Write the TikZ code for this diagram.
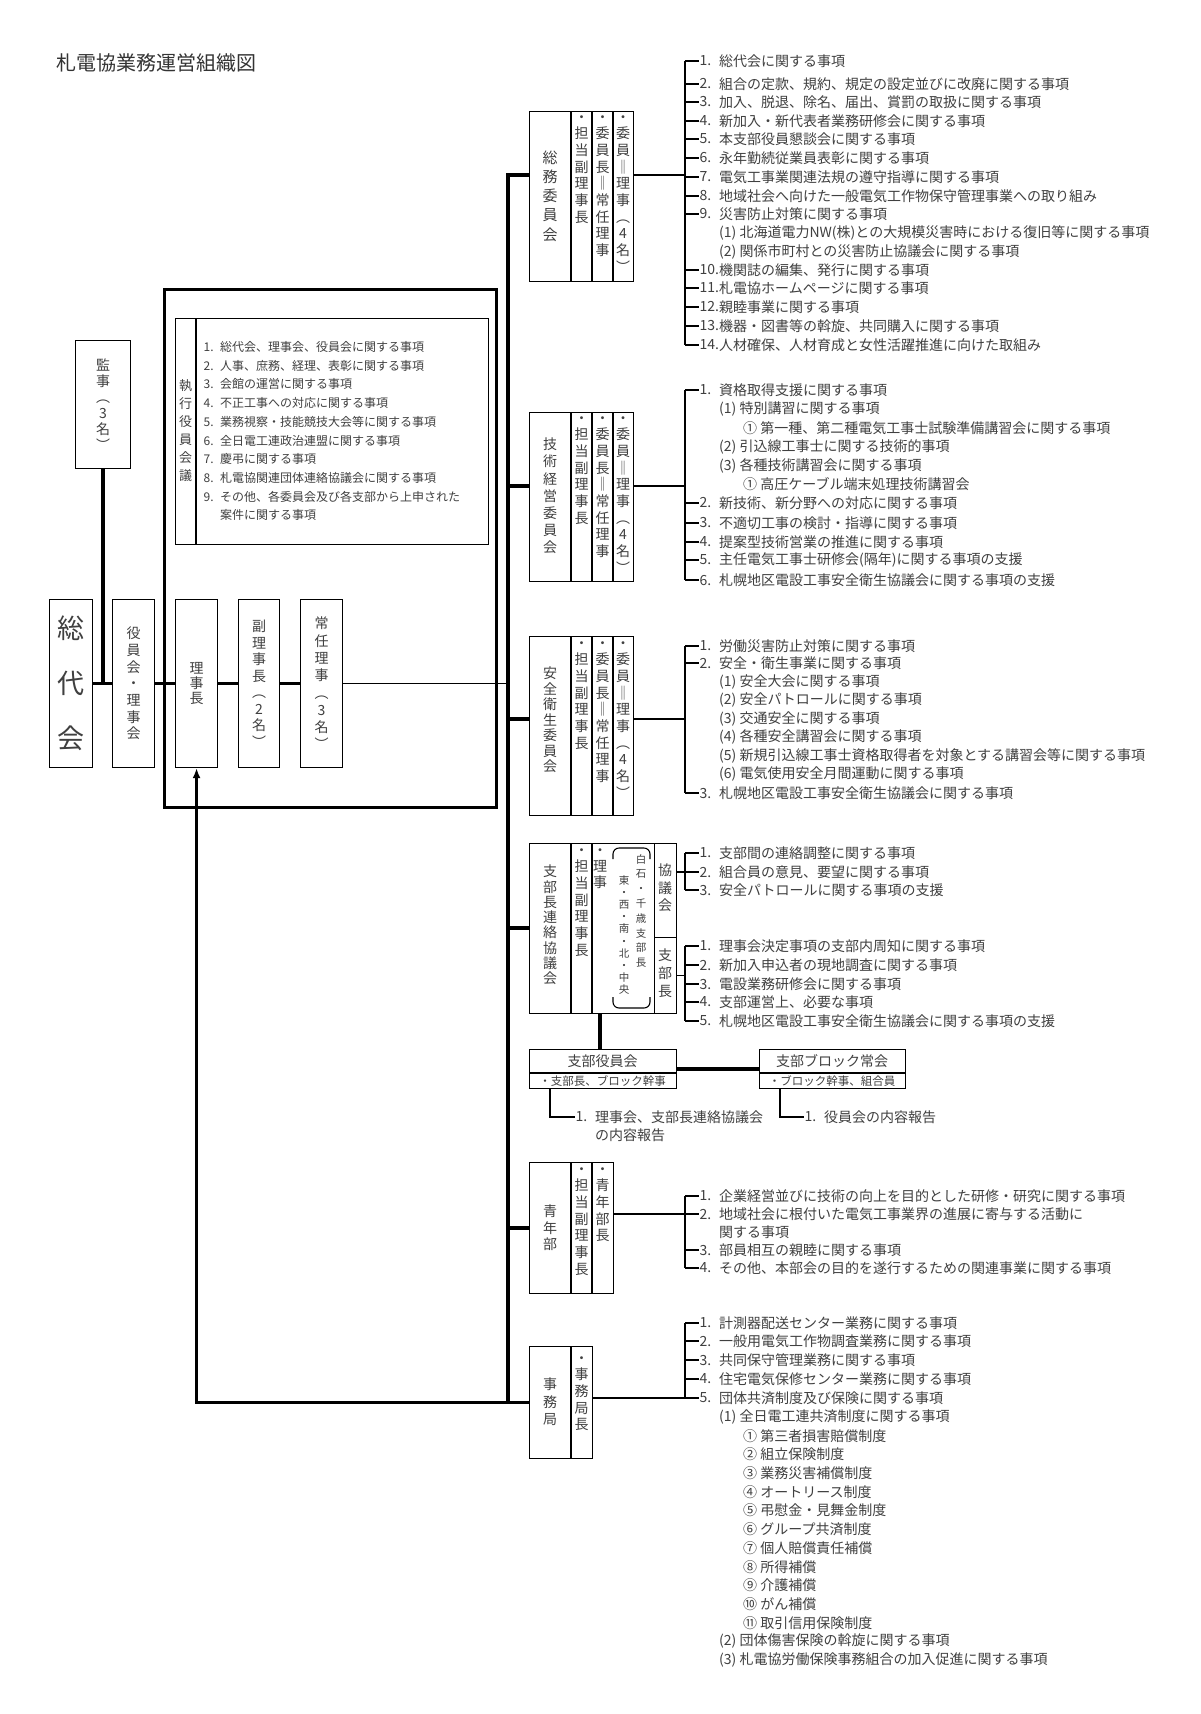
\documentclass[tikz,border=0pt]{standalone}
\usepackage{fontspec}
\setmainfont{Noto Sans CJK JP}
\usetikzlibrary{positioning,arrows.meta}

\begin{document}
\begin{tikzpicture}[x=1pt,y=-1pt,
    box/.style={draw,line width=1.1pt,inner sep=0pt,anchor=north west},
    tate/.style={align=center,inner sep=0pt,text=black!75,font=\fontsize{14}{16.7}\selectfont},
    num/.style={anchor=west,inner sep=0.5pt,text=black!75,font=\fontsize{14}{17}\selectfont},
    item/.style={anchor=west,inner sep=0pt,text=black!75,font=\fontsize{14}{17}\selectfont},
    small/.style={font=\fontsize{12}{14}\selectfont},
    heavy/.style={line width=3.5pt},
    slim/.style={line width=1.1pt}]
\fill[white] (0,0) rectangle (1200,1714);
\useasboundingbox (0,0) rectangle (1200,1714);

\node[anchor=west,text=black!80,font=\fontsize{20}{24}\selectfont] (title) at (53,63) {札電協業務運営組織図};

% left side
\node[box,minimum width=55pt,minimum height=128pt] (kanji) at (75,340) {};
\node[tate,font=\fontsize{14}{16}\selectfont] (kanjit) at (kanji.center) {監\\事\\︵\\3\\名\\︶};
\node[box,minimum width=43pt,minimum height=168pt] (sodai) at (49,599) {};
\node[tate,font=\fontsize{27}{55}\selectfont] (sodait) at (sodai.center) {総\\代\\会};
\node[box,minimum width=42pt,minimum height=168pt] (yakuin) at (112,599) {};
\node[tate] (yakuint) at (yakuin.center) {役\\員\\会\\・\\理\\事\\会};
\node[box,line width=2.5pt,minimum width=332pt,minimum height=518pt] (kanbu) at (163,288) {};
\node[box,minimum width=313pt,minimum height=226pt] (shikko) at (175,318) {};
\draw[slim] (196,318) -- (196,544);
\node[tate,font=\fontsize{13}{18}\selectfont] (shikkot) at (185.5,431) {執\\行\\役\\員\\会\\議};
\foreach \y/\n/\t [count=\i] in {347/1./総代会、理事会、役員会に関する事項,
    366/2./人事、庶務、経理、表彰に関する事項,384/3./会館の運営に関する事項,
    403/4./不正工事への対応に関する事項,422/5./業務視察・技能競技大会等に関する事項,
    441/6./全日電工連政治連盟に関する事項,459/7./慶弔に関する事項,
    478/8./札電協関連団体連絡協議会に関する事項,497/9./その他、各委員会及び各支部から上申された} {
  \node[num,small] (sk\i) at (203,\y) {\n};
  \node[item,small] (skt\i) at (220,\y) {\t};
}
\node[item,small] (skt10) at (220,515) {案件に関する事項};

\node[box,minimum width=42pt,minimum height=168pt] (richo) at (175,599) {};
\node[tate,font=\fontsize{14}{15}\selectfont] (richot) at (richo.center) {理\\事\\長};
\node[box,minimum width=41pt,minimum height=168pt] (fuku) at (238,599) {};
\node[tate,font=\fontsize{14}{16.5}\selectfont] (fukut) at (fuku.center) {副\\理\\事\\長\\︵\\2\\名\\︶};
\node[box,minimum width=42pt,minimum height=168pt] (jonin) at (300,599) {};
\node[tate,font=\fontsize{14}{17.3}\selectfont] (jonint) at (jonin.center) {常\\任\\理\\事\\︵\\3\\名\\︶};

\draw[heavy] (kanji) -- (kanji |- sodai);
\draw[heavy] (sodai) -- (yakuin);
\draw[heavy] (yakuin) -- (richo);
\draw[heavy] (richo) -- (fuku);
\draw[heavy] (fuku) -- (jonin);

% bus
\coordinate (b1) at (508,175);
\coordinate (b2) at (508,486);
\coordinate (b3) at (508,719);
\coordinate (b4) at (508,928);
\coordinate (b5) at (508,1228);
\coordinate (b6) at (508,1402);
\coordinate (br) at (685,0);
\draw[slim] (jonin) -- (jonin -| b1);

% 総務委員会
\node[box,minimum width=104pt,minimum height=170pt] (somu) at (529,111) {};
\foreach \x in {571,592,613} \draw[slim] (\x,111) -- (\x,281);
\node[tate,font=\fontsize{15}{19.2}\selectfont] (somu0) at (550,196) {総\\務\\委\\員\\会};
\node[tate,anchor=north] (somu1) at (581.5,115) {・\\担\\当\\副\\理\\事\\長};
\node[tate,anchor=north] (somu2) at (602.5,115) {・\\委\\員\\長\\‖\\常\\任\\理\\事};
\node[tate,anchor=north] (somu3) at (623,115) {・\\委\\員\\‖\\理\\事\\︵\\4\\名\\︶};
\draw[heavy] (b1 -| somu.west) -- (b1) -- (b6);
\draw[slim] (somu.east |- b1) -- (br |- b1);
\foreach \y/\n/\t [count=\i] in {61/1./総代会に関する事項,
    84/2./組合の定款、規約、規定の設定並びに改廃に関する事項,
    102/3./加入、脱退、除名、届出、賞罰の取扱に関する事項,
    121/4./新加入・新代表者業務研修会に関する事項,
    139/5./本支部役員懇談会に関する事項,
    158/6./永年勤続従業員表彰に関する事項,
    177/7./電気工事業関連法規の遵守指導に関する事項,
    196/8./地域社会へ向けた一般電気工作物保守管理事業への取り組み,
    214/9./災害防止対策に関する事項,
    270/10./機関誌の編集、発行に関する事項,
    288/11./札電協ホームページに関する事項,
    307/12./親睦事業に関する事項,
    326/13./機器・図書等の斡旋、共同購入に関する事項,
    345/14./人材確保、人材育成と女性活躍推進に向けた取組み} {
  \node[num] (so\i) at (699,\y) {\n};
  \node[item] (sot\i) at (719,\y) {\t};
  \draw[slim] (br |- so\i.west) -- (so\i.west);
}
\draw[slim] (br |- so1.west) -- (br |- so14.west);
\node[item] (sos1) at (719,233) {(1) 北海道電力NW(株)との大規模災害時における復旧等に関する事項};
\node[item] (sos2) at (719,252) {(2) 関係市町村との災害防止協議会に関する事項};

% 技術経営委員会
\node[box,minimum width=104pt,minimum height=169pt] (gijutsu) at (529,412) {};
\foreach \x in {571,592,613} \draw[slim] (\x,412) -- (\x,581);
\node[tate,font=\fontsize{14}{17.2}\selectfont] (gi0) at (550,496) {技\\術\\経\\営\\委\\員\\会};
\node[tate,anchor=north] (gi1) at (581.5,416) {・\\担\\当\\副\\理\\事\\長};
\node[tate,anchor=north] (gi2) at (602.5,416) {・\\委\\員\\長\\‖\\常\\任\\理\\事};
\node[tate,anchor=north] (gi3) at (623,416) {・\\委\\員\\‖\\理\\事\\︵\\4\\名\\︶};
\draw[heavy] (b2) -- (b2 -| gijutsu.west);
\draw[slim] (gijutsu.east |- b2) -- (br |- b2);
\foreach \y/\n/\t [count=\i] in {390/1./資格取得支援に関する事項,
    503/2./新技術、新分野への対応に関する事項,
    523/3./不適切工事の検討・指導に関する事項,
    542/4./提案型技術営業の推進に関する事項,
    560/5./主任電気工事士研修会(隔年)に関する事項の支援,
    580/6./札幌地区電設工事安全衛生協議会に関する事項の支援} {
  \node[num] (gn\i) at (699,\y) {\n};
  \node[item] (gnt\i) at (719,\y) {\t};
  \draw[slim] (br |- gn\i.west) -- (gn\i.west);
}
\draw[slim] (br |- gn1.west) -- (br |- gn6.west);
\node[item] (gs1) at (719,409) {(1) 特別講習に関する事項};
\node[item] (gs2) at (743,428) {① 第一種、第二種電気工事士試験準備講習会に関する事項};
\node[item] (gs3) at (719,447) {(2) 引込線工事士に関する技術的事項};
\node[item] (gs4) at (719,466) {(3) 各種技術講習会に関する事項};
\node[item] (gs5) at (743,484) {① 高圧ケーブル端末処理技術講習会};

% 安全衛生委員会
\node[box,minimum width=104pt,minimum height=179pt] (anzen) at (529,636) {};
\foreach \x in {571,592,613} \draw[slim] (\x,636) -- (\x,815);
\node[tate,font=\fontsize{14}{15.5}\selectfont] (an0) at (550,720) {安\\全\\衛\\生\\委\\員\\会};
\node[tate,anchor=north] (an1) at (581.5,641) {・\\担\\当\\副\\理\\事\\長};
\node[tate,anchor=north] (an2) at (602.5,641) {・\\委\\員\\長\\‖\\常\\任\\理\\事};
\node[tate,anchor=north] (an3) at (623,641) {・\\委\\員\\‖\\理\\事\\︵\\4\\名\\︶};
\draw[heavy] (b3) -- (b3 -| anzen.west);
\draw[slim] (anzen.east |- b3) -- (br |- b3);
\foreach \y/\n/\t [count=\i] in {646/1./労働災害防止対策に関する事項,
    663/2./安全・衛生事業に関する事項,
    793/3./札幌地区電設工事安全衛生協議会に関する事項} {
  \node[num] (an\i) at (699,\y) {\n};
  \node[item] (ant\i) at (719,\y) {\t};
  \draw[slim] (br |- an\i.west) -- (an\i.west);
}
\draw[slim] (br |- an1.west) -- (br |- an3.west);
\foreach \y/\t [count=\i] in {682/(1) 安全大会に関する事項,700/(2) 安全パトロールに関する事項,
    719/(3) 交通安全に関する事項,737/(4) 各種安全講習会に関する事項,
    756/(5) 新規引込線工事士資格取得者を対象とする講習会等に関する事項,
    774/(6) 電気使用安全月間運動に関する事項}
  \node[item] (ans\i) at (719,\y) {\t};

% 支部長連絡協議会
\node[box,minimum width=147pt,minimum height=170pt] (renraku) at (529,843) {};
\foreach \x in {571,592} \draw[slim] (\x,843) -- (\x,1013);
\node[box,minimum width=22pt,minimum height=94pt] (kyogi) at (654,843) {};
\node[box,minimum width=22pt,minimum height=76pt] (shibucho) at (654,937) {};
\node[tate,font=\fontsize{14}{15.3}\selectfont] (re0) at (550,925) {支\\部\\長\\連\\絡\\協\\議\\会};
\node[tate,anchor=north] (re1) at (581.5,848) {・\\担\\当\\副\\理\\事\\長};
\node[tate,anchor=north,font=\fontsize{14}{16}\selectfont] (re2) at (600,848) {・\\理\\事};
\node[tate,anchor=north,font=\fontsize{10.5}{12.2}\selectfont] (re3) at (624,875) {東\\・\\西\\・\\南\\・\\北\\・\\中\\央};
\node[tate,anchor=north,font=\fontsize{10.5}{14.8}\selectfont] (re4) at (641,854) {白\\石\\・\\千\\歳\\支\\部\\長};
\draw[slim,rounded corners=6pt] (613,859) -- (613,848) -- (650,848) -- (650,859);
\draw[slim,rounded corners=6pt] (613,997) -- (613,1008) -- (650,1008) -- (650,997);
\node[tate,font=\fontsize{14}{17.5}\selectfont] (kyogit) at (665,888) {協\\議\\会};
\node[tate,font=\fontsize{14}{18}\selectfont] (shibuchot) at (665,973) {支\\部\\長};
\draw[heavy] (b4) -- (b4 -| renraku.west);
\foreach \y/\n/\t [count=\i] in {853/1./支部間の連絡調整に関する事項,
    872/2./組合員の意見、要望に関する事項,
    890/3./安全パトロールに関する事項の支援} {
  \node[num] (ky\i) at (699,\y) {\n};
  \node[item] (kyt\i) at (719,\y) {\t};
  \draw[slim] (br |- ky\i.west) -- (ky\i.west);
}
\draw[slim] (br |- ky1.west) -- (br |- ky3.west);
\draw[slim] (kyogi.east |- ky2.west) -- (br |- ky2.west);
\foreach \y/\n/\t [count=\i] in {946/1./理事会決定事項の支部内周知に関する事項,
    965/2./新加入申込者の現地調査に関する事項,
    984/3./電設業務研修会に関する事項,
    1002/4./支部運営上、必要な事項,
    1021/5./札幌地区電設工事安全衛生協議会に関する事項の支援} {
  \node[num] (sb\i) at (699,\y) {\n};
  \node[item] (sbt\i) at (719,\y) {\t};
  \draw[slim] (br |- sb\i.west) -- (sb\i.west);
}
\draw[slim] (br |- sb1.west) -- (br |- sb5.west);
\draw[slim] (shibucho.east) -- (br |- shibucho.east);

% 支部役員会 / 支部ブロック常会
\node[box,minimum width=147pt,minimum height=39pt] (yakuinkai) at (529,1049) {};
\draw[slim] (529,1073) -- (676,1073);
\node[tate] (yk1) at (602.5,1061) {支部役員会};
\node[tate,font=\fontsize{11.5}{13}\selectfont] (yk2) at (602.5,1081) {・支部長、ブロック幹事};
\node[box,minimum width=146pt,minimum height=39pt] (jokai) at (759,1049) {};
\draw[slim] (759,1073) -- (905,1073);
\node[tate] (jk1) at (832,1061) {支部ブロック常会};
\node[tate,font=\fontsize{11.5}{13}\selectfont] (jk2) at (832,1081) {・ブロック幹事、組合員};
\draw[heavy] ([xshift=71pt]renraku.south west) -- ([xshift=71pt]yakuinkai.north west);
\draw[heavy] (yakuinkai) -- (jokai);
\node[num] (r1) at (575,1117) {1.};
\node[item] (r1t) at (595,1117) {理事会、支部長連絡協議会};
\node[item] (r1u) at (595,1135) {の内容報告};
\draw[slim] ([xshift=21pt]yakuinkai.south west) |- (r1.west);
\node[num] (r2) at (804,1117) {1.};
\node[item] (r2t) at (824,1117) {役員会の内容報告};
\draw[slim] ([xshift=21pt]jokai.south west) |- (r2.west);

% 青年部
\node[box,minimum width=84pt,minimum height=131pt] (seinen) at (529,1162) {};
\foreach \x in {571,592} \draw[slim] (\x,1162) -- (\x,1293);
\node[tate,font=\fontsize{14}{16.5}\selectfont] (se0) at (550,1228) {青\\年\\部};
\node[tate,anchor=north] (se1) at (581.5,1167) {・\\担\\当\\副\\理\\事\\長};
\node[tate,anchor=north] (se2) at (602.5,1167) {・\\青\\年\\部\\長};
\draw[heavy] (b5) -- (b5 -| seinen.west);
\foreach \y/\n/\t [count=\i] in {1196/1./企業経営並びに技術の向上を目的とした研修・研究に関する事項,
    1214/2./地域社会に根付いた電気工事業界の進展に寄与する活動に,
    1250/3./部員相互の親睦に関する事項,
    1268/4./その他、本部会の目的を遂行するための関連事業に関する事項} {
  \node[num] (sy\i) at (699,\y) {\n};
  \node[item] (syt\i) at (719,\y) {\t};
  \draw[slim] (br |- sy\i.west) -- (sy\i.west);
}
\node[item] (syu) at (719,1232) {関する事項};
\draw[slim] (br |- sy1.west) -- (br |- sy4.west);
\draw[slim] (seinen.east |- sy2.west) -- (br |- sy2.west);

% 事務局
\node[box,minimum width=63pt,minimum height=112pt] (jimu) at (529,1346) {};
\draw[slim] (571,1346) -- (571,1458);
\node[tate,font=\fontsize{14}{17.5}\selectfont] (ji0) at (550,1402) {事\\務\\局};
\node[tate,anchor=north] (ji1) at (581.5,1356) {・\\事\\務\\局\\長};
\draw[line width=3pt,-{Latex[length=10pt,width=8pt]}] (jimu.west) -- (jimu.west -| richo.south) -- (richo.south);
\foreach \y/\n/\t [count=\i] in {1323/1./計測器配送センター業務に関する事項,
    1341/2./一般用電気工作物調査業務に関する事項,
    1360/3./共同保守管理業務に関する事項,
    1379/4./住宅電気保修センター業務に関する事項,
    1398/5./団体共済制度及び保険に関する事項} {
  \node[num] (jn\i) at (699,\y) {\n};
  \node[item] (jnt\i) at (719,\y) {\t};
  \draw[slim] (br |- jn\i.west) -- (jn\i.west);
}
\draw[slim] (br |- jn1.west) -- (br |- jn5.west);
\draw[slim] (jimu.east |- jn5.west) -- (br |- jn5.west);
\node[item] (js1) at (719,1417) {(1) 全日電工連共済制度に関する事項};
\foreach \t [count=\i] in {① 第三者損害賠償制度,② 組立保険制度,③ 業務災害補償制度,
    ④ オートリース制度,⑤ 弔慰金・見舞金制度,⑥ グループ共済制度,⑦ 個人賠償責任補償,
    ⑧ 所得補償,⑨ 介護補償,⑩ がん補償,⑪ 取引信用保険制度}
  \node[item] (jm\i) at (743,{1417+18.73*\i}) {\t};
\node[item] (js2) at (719,1641) {(2) 団体傷害保険の斡旋に関する事項};
\node[item] (js3) at (719,1660) {(3) 札電協労働保険事務組合の加入促進に関する事項};
\end{tikzpicture}
\end{document}
